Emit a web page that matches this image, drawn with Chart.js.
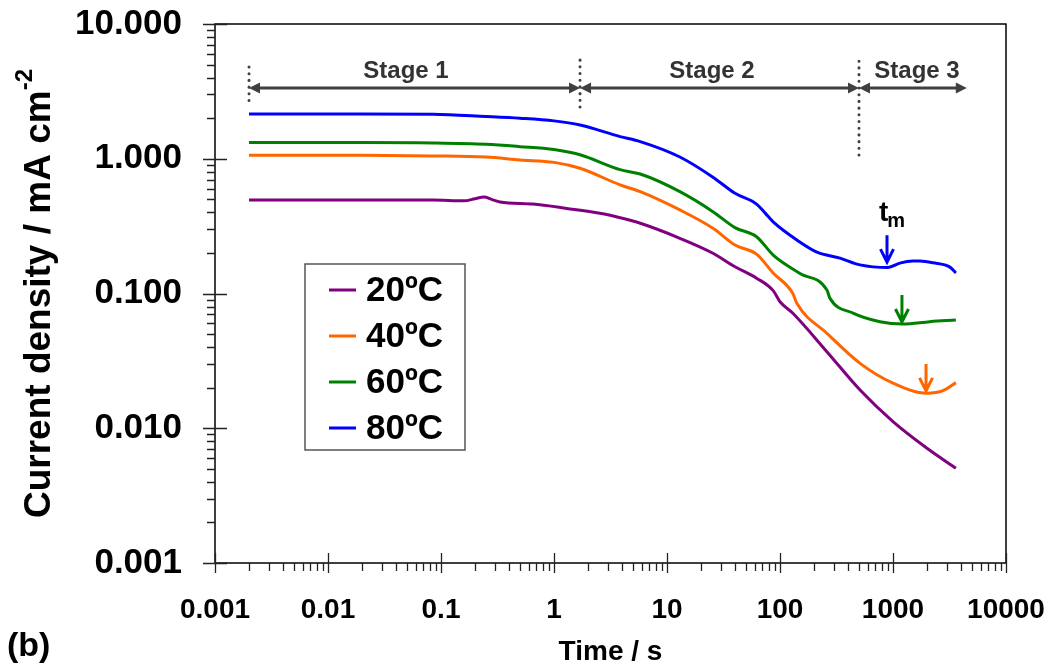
<!DOCTYPE html>
<html lang="en">
<head>
<meta charset="UTF-8" />
<title>Current density vs time</title>
<script src="https://cdn.jsdelivr.net/npm/chart.js@4.4.1/dist/chart.umd.min.js"></script>
<style>
  html, body { margin: 0; padding: 0; background: #fff; }
  #wrap { width: 1055px; height: 670px; }
</style>
</head>
<body>
<div id="wrap"><canvas id="chart" width="1055" height="670"></canvas></div>
<script>
// series: time (s) and current density (mA cm-2)
const t20 = [0.002, 0.02, 0.085, 0.16, 0.2, 0.24, 0.28, 0.333, 0.65, 1.3, 2.55, 3.84, 5.8, 13, 25.5, 40, 62, 87, 100, 130, 260, 511, 1000, 2000, 3600];
const j20 = [0.494, 0.494, 0.494, 0.487, 0.505, 0.52, 0.5, 0.478, 0.461, 0.428, 0.394, 0.365, 0.332, 0.257, 0.199, 0.158, 0.13, 0.105, 0.0868, 0.0713, 0.037, 0.0192, 0.0112, 0.0071, 0.00505];

const t40 = [0.002, 0.02, 0.085, 0.25, 0.5, 1, 1.7, 3.84, 5.8, 13, 25.5, 40, 62, 87, 130, 141, 260, 511, 1000, 2000, 2770, 3600];
const j40 = [1.06, 1.06, 1.05, 1.03, 0.98, 0.94, 0.85, 0.64, 0.57, 0.417, 0.305, 0.229, 0.196, 0.142, 0.100, 0.0845, 0.0507, 0.0303, 0.0216, 0.0182, 0.019, 0.0218];

const t60 = [0.002, 0.02, 0.085, 0.25, 0.5, 1, 1.7, 3.84, 5.8, 13, 25.5, 40, 62, 87, 150, 260, 277, 443, 767, 1225, 2120, 3600];
const j60 = [1.32, 1.32, 1.31, 1.28, 1.23, 1.17, 1.07, 0.83, 0.77, 0.57, 0.405, 0.308, 0.264, 0.193, 0.141, 0.106, 0.092, 0.0716, 0.0618, 0.0594, 0.0618, 0.0635];

const t80 = [0.002, 0.02, 0.085, 0.25, 0.5, 1, 1.7, 3.84, 5.8, 13, 25.5, 40, 62, 74, 87, 150, 212, 340, 511, 904, 1150, 1500, 1730, 2260, 3190, 3600];
const j80 = [2.15, 2.15, 2.14, 2.06, 2.0, 1.91, 1.78, 1.46, 1.34, 1.03, 0.73, 0.554, 0.461, 0.395, 0.34, 0.241, 0.203, 0.183, 0.163, 0.156, 0.168, 0.174, 0.174, 0.169, 0.157, 0.142];

const seriesLabels = ['20ºC', '40ºC', '60ºC', '80ºC'];
const seriesColors = ['#800080', '#FF6600', '#008000', '#0000FF'];

const xTicks = [0.001, 0.01, 0.1, 1, 10, 100, 1000, 10000];
const yTicks = [0.001, 0.01, 0.1, 1, 10];

// stage boundaries (s) and the t_m markers (s, mA cm-2)
const stageNames = ['Stage 1', 'Stage 2', 'Stage 3'];
const stageStart = [0.002, 1.7, 500];
const stageEnd = [1.7, 500, 4500];
const stageLabelAt = [0.049, 25, 1630];
const tmTimes = [885, 1200, 1960];
const tmValues = [0.168, 0.0604, 0.0186];
const tmColors = ['#0000FF', '#008000', '#FF6600'];

const FONT = 'Liberation Sans, Arial, Helvetica, sans-serif';

function pts(ts, js) {
  return ts.map((t, i) => ({ x: t, y: js[i] }));
}

const allSeries = [[t20, j20], [t40, j40], [t60, j60], [t80, j80]];

const datasets = allSeries.map((s, i) => ({
  label: seriesLabels[i],
  data: pts(s[0], s[1]),
  borderColor: seriesColors[i],
  backgroundColor: seriesColors[i],
  borderWidth: 3,
  pointRadius: 0,
  fill: false,
  cubicInterpolationMode: 'monotone'
}));

function head(ctx, x, y, dir) {
  ctx.beginPath();
  ctx.moveTo(x, y);
  ctx.lineTo(x - dir * 11, y - 5.5);
  ctx.lineTo(x - dir * 11, y + 5.5);
  ctx.closePath();
  ctx.fill();
}

const overlay = {
  id: 'overlay',
  afterDatasetsDraw(chart) {
    const { ctx, chartArea: a, scales } = chart;
    const x = scales.x, y = scales.y;
    ctx.save();

    // plot frame
    ctx.strokeStyle = '#000';
    ctx.lineWidth = 1.5;
    ctx.strokeRect(a.left, a.top, a.right - a.left, a.bottom - a.top);

    // tick marks: majors cross the axis, minors sit outside
    ctx.strokeStyle = '#222';
    ctx.lineWidth = 1.3;
    ctx.beginPath();
    for (let e = -3; e <= 4; e++) {
      for (let k = 1; k <= 9; k++) {
        const v = k * Math.pow(10, e);
        if (v > 10000 * 1.001) break;
        const px = Math.round(x.getPixelForValue(v)) + 0.5;
        if (k === 1) { ctx.moveTo(px, a.bottom - 10); ctx.lineTo(px, a.bottom + 10); }
        else { ctx.moveTo(px, a.bottom); ctx.lineTo(px, a.bottom + 8); }
      }
    }
    for (let e = -3; e <= 1; e++) {
      for (let k = 1; k <= 9; k++) {
        const v = k * Math.pow(10, e);
        if (v > 10 * 1.001) break;
        const py = Math.round(y.getPixelForValue(v)) + 0.5;
        if (k === 1) { ctx.moveTo(a.left - 12, py); ctx.lineTo(a.left + 12, py); }
        else { ctx.moveTo(a.left - 8, py); ctx.lineTo(a.left, py); }
      }
    }
    ctx.stroke();

    // stage arrows + dotted separators
    const gray = '#404040';
    const ay = y.getPixelForValue(3.35);
    ctx.strokeStyle = gray;
    ctx.fillStyle = gray;
    for (let i = 0; i < stageNames.length; i++) {
      const x0 = x.getPixelForValue(stageStart[i]);
      const x1 = x.getPixelForValue(stageEnd[i]);
      ctx.lineWidth = 3;
      ctx.beginPath();
      ctx.moveTo(x0 + 8, ay);
      ctx.lineTo(x1 - 8, ay);
      ctx.stroke();
      head(ctx, x0, ay, -1);
      head(ctx, x1, ay, 1);
      ctx.font = 'bold 24px ' + FONT;
      ctx.fillStyle = '#333';
      ctx.textAlign = 'center';
      ctx.textBaseline = 'alphabetic';
      ctx.fillText(stageNames[i], x.getPixelForValue(stageLabelAt[i]), ay - 10);
      ctx.fillStyle = gray;
    }
    const dotTop = [4.8, 5.4, 5.3];
    const dotBottom = [2.42, 2.42, 1.01];
    ctx.setLineDash([0.1, 6.6]);
    ctx.lineCap = 'round';
    ctx.lineWidth = 3;
    stageStart.forEach((t, i) => {
      const px = x.getPixelForValue(t);
      ctx.beginPath();
      ctx.moveTo(px, y.getPixelForValue(dotTop[i]));
      ctx.lineTo(px, y.getPixelForValue(dotBottom[i]));
      ctx.stroke();
    });
    ctx.setLineDash([]);
    ctx.lineCap = 'butt';

    // t_m arrows
    tmTimes.forEach((t, i) => {
      const px = x.getPixelForValue(t);
      const py = y.getPixelForValue(tmValues[i]);
      ctx.strokeStyle = tmColors[i];
      ctx.lineWidth = 3;
      ctx.beginPath();
      ctx.moveTo(px, py - 28);
      ctx.lineTo(px, py - 2);
      ctx.moveTo(px - 6.5, py - 14);
      ctx.lineTo(px, py - 1);
      ctx.lineTo(px + 6.5, py - 14);
      ctx.stroke();
    });
    const tx = x.getPixelForValue(tmTimes[0]) - 8;
    const ty = y.getPixelForValue(tmValues[0]) - 42;
    ctx.fillStyle = '#000';
    ctx.textAlign = 'left';
    ctx.font = 'bold 28px ' + FONT;
    ctx.fillText('t', tx, ty);
    ctx.font = 'bold 20px ' + FONT;
    ctx.fillText('m', tx + ctx.measureText('t').width + 1.5, ty + 6);

    // legend box
    const lx = a.left + 90, ly = a.top + 240, lw = 160, lh = 186;
    ctx.fillStyle = '#fff';
    ctx.fillRect(lx, ly, lw, lh);
    ctx.strokeStyle = '#555';
    ctx.lineWidth = 1.5;
    ctx.strokeRect(lx, ly, lw, lh);
    chart.data.datasets.forEach((ds, i) => {
      const cy = ly + 26 + i * 46;
      ctx.strokeStyle = ds.borderColor;
      ctx.lineWidth = 3;
      ctx.beginPath();
      ctx.moveTo(lx + 24, cy);
      ctx.lineTo(lx + 51, cy);
      ctx.stroke();
      ctx.fillStyle = '#000';
      ctx.font = 'bold 35px ' + FONT;
      ctx.textBaseline = 'middle';
      ctx.fillText(ds.label, lx + 61, cy + 1);
    });
    ctx.restore();
  },
  afterDraw(chart) {
    const { ctx, chartArea: a } = chart;
    ctx.save();
    // y axis title with superscript
    const main = 'Current density / mA cm';
    ctx.font = 'bold 37px ' + FONT;
    const mw = ctx.measureText(main).width;
    ctx.font = 'bold 24px ' + FONT;
    const sw = ctx.measureText('-2').width;
    const cy = (a.top + a.bottom) / 2;
    ctx.translate(50, cy);
    ctx.rotate(-Math.PI / 2);
    ctx.fillStyle = '#000';
    ctx.textAlign = 'left';
    ctx.textBaseline = 'alphabetic';
    ctx.font = 'bold 37px ' + FONT;
    ctx.fillText(main, -(mw + sw) / 2, 0);
    ctx.font = 'bold 24px ' + FONT;
    ctx.fillText('-2', -(mw + sw) / 2 + mw, -18);
    ctx.restore();

    ctx.save();
    ctx.fillStyle = '#000';
    ctx.font = 'bold 34px ' + FONT;
    ctx.textAlign = 'left';
    ctx.textBaseline = 'alphabetic';
    ctx.fillText('(b)', 7, 656);
    ctx.restore();
  }
};

new Chart(document.getElementById('chart'), {
  type: 'line',
  data: { datasets },
  options: {
    responsive: false,
    animation: false,
    layout: { padding: { top: 24, right: 49, bottom: 0, left: 0 } },
    plugins: { legend: { display: false }, tooltip: { enabled: false } },
    scales: {
      x: {
        type: 'logarithmic',
        min: 0.001,
        max: 10000,
        afterBuildTicks: s => { s.ticks = xTicks.map(v => ({ value: v })); },
        afterFit: s => { s.height = 107; },
        // ticks drawn by the overlay; tickLength only offsets the labels
        grid: { display: false, drawTicks: true, tickLength: 30 },
        border: { display: false },
        ticks: {
          autoSkip: false,
          maxRotation: 0,
          padding: 0,
          color: '#000',
          font: { family: FONT, size: 28, weight: 'bold' },
          callback: v => String(v)
        },
        title: {
          display: true,
          text: 'Time / s',
          color: '#000',
          font: { family: FONT, size: 28, weight: 'bold' },
          padding: { top: 0, bottom: 1 }
        }
      },
      y: {
        type: 'logarithmic',
        min: 0.001,
        max: 10,
        afterBuildTicks: s => { s.ticks = yTicks.map(v => ({ value: v })); },
        afterFit: s => { s.width = 215; },
        grid: { display: false, drawTicks: true, tickLength: 33 },
        border: { display: false },
        ticks: {
          autoSkip: false,
          padding: 0,
          color: '#000',
          font: { family: FONT, size: 35, weight: 'bold' },
          callback: v => Number(v).toFixed(3)
        }
      }
    }
  },
  plugins: [overlay]
});
</script>
</body>
</html>
